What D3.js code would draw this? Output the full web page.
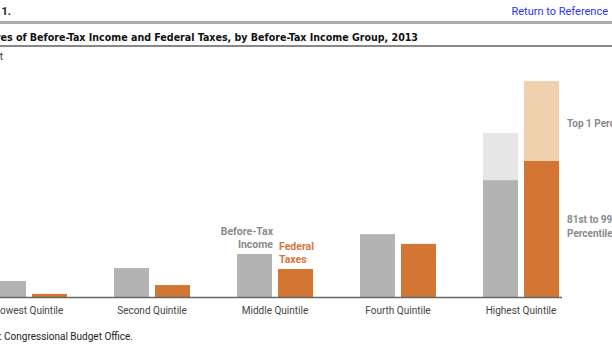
<!DOCTYPE html>
<html>
<head>
<meta charset="utf-8">
<script src="https://cdn.jsdelivr.net/npm/d3@7"></script>
<style>
  body { margin: 0; background: #fff; }
  svg { display: block; font-family: Roboto, "Liberation Sans", sans-serif; }
</style>
</head>
<body>
<div id="chart"></div>
<script>
// shares in percent
const groups = ["Lowest Quintile", "Second Quintile", "Middle Quintile", "Fourth Quintile", "Highest Quintile"];
const incomeShare = [5.1, 9.2, 13.7, 20.0, 37.2];   // highest = 81st to 99th part
const taxShare = [1.0, 3.8, 8.9, 16.9, 43.3];
const incomeTop1 = [0, 0, 0, 0, 15.0];
const taxTop1 = [0, 0, 0, 0, 25.4];

const grayDark = "#b3b3b3";
const grayLight = "#e6e6e6";
const orangeDark = "#d37533";
const orangeLight = "#f0d1ad";

const width = 612, height = 344;
const baseY = 297;

const svg = d3.select("#chart").append("svg")
  .attr("width", width)
  .attr("height", height);

// header
svg.append("text").attr("x", 11).attr("y", 15).attr("text-anchor", "end")
  .attr("font-size", 11).attr("font-weight", "bold").attr("fill", "#222").text("Figure 1.");
svg.append("text").attr("x", 608).attr("y", 15).attr("text-anchor", "end")
  .attr("font-size", 11).attr("fill", "#2b35f0").text("Return to Reference");
svg.append("rect").attr("x", 0).attr("y", 21).attr("width", width).attr("height", 3).attr("fill", "#aaa");

// title: condensed bold, sized so the visible part "es of ... 2013" spans about 418px
const titleFont = '"Liberation Sans Narrow", "DejaVu Sans Condensed", Roboto, sans-serif';
const probe = svg.append("text").attr("font-family", titleFont).attr("font-weight", "bold")
  .attr("font-size", 13).text("es of Before-Tax Income and Federal Taxes, by Before-Tax Income Group, 2013");
const titleSize = 13 * 418 / probe.node().getComputedTextLength();
probe.remove();
svg.append("text").attr("x", 418).attr("y", 41).attr("text-anchor", "end")
  .attr("font-family", titleFont)
  .attr("font-size", titleSize).attr("font-weight", "bold").attr("fill", "#111")
  .text("Shares of Before-Tax Income and Federal Taxes, by Before-Tax Income Group, 2013");
svg.append("line").attr("x1", 0).attr("x2", width).attr("y1", 46).attr("y2", 46)
  .attr("stroke", "#111").attr("stroke-width", 1.2);
svg.append("text").attr("x", 3).attr("y", 60).attr("text-anchor", "end")
  .attr("font-size", 10).attr("fill", "#333").text("Percent");

const x0 = d3.scaleBand().domain(groups).range([-32.5, 582.5]);
const x1 = d3.scaleBand().domain(["income", "taxes"]).range([0, 76]).paddingInner(6 / 41);
const y = d3.scaleLinear().domain([0, 70]).range([baseY, 77]);

const rows = groups.map((g, i) => ({
  group: g,
  income: incomeShare[i], incomeTop: incomeTop1[i],
  taxes: taxShare[i], taxesTop: taxTop1[i]
}));

const cx = g => x0(g) + x0.bandwidth() / 2;

const gBars = svg.append("g");
const series = [
  { key: "income", top: "incomeTop", fill: grayDark, topFill: grayLight },
  { key: "taxes", top: "taxesTop", fill: orangeDark, topFill: orangeLight }
];
series.forEach(s => {
  gBars.selectAll(null).data(rows).enter().append("rect")
    .attr("x", d => cx(d.group) - 38 + x1(s.key))
    .attr("width", x1.bandwidth())
    .attr("y", d => y(d[s.key]))
    .attr("height", d => y(0) - y(d[s.key]))
    .attr("fill", s.fill);
  gBars.selectAll(null).data(rows.filter(d => d[s.top] > 0)).enter().append("rect")
    .attr("x", d => cx(d.group) - 38 + x1(s.key))
    .attr("width", x1.bandwidth())
    .attr("y", d => y(d[s.key] + d[s.top]))
    .attr("height", d => y(d[s.key]) - y(d[s.key] + d[s.top]))
    .attr("fill", s.topFill);
});

// baseline and category labels
svg.append("line").attr("x1", 0).attr("x2", 562).attr("y1", baseY + 0.5).attr("y2", baseY + 0.5)
  .attr("stroke", "#666").attr("stroke-width", 1.5);
svg.selectAll("text.cat").data(groups).enter().append("text")
  .attr("class", "cat")
  .attr("x", d => cx(d)).attr("y", 314)
  .attr("text-anchor", "middle").attr("font-size", 10).attr("fill", "#444")
  .text(d => d);

// series labels on the middle quintile
const mid = cx(groups[2]);
svg.append("text").attr("x", mid - 2).attr("y", 235).attr("text-anchor", "end")
  .attr("font-size", 10.5).attr("font-weight", "bold").attr("fill", "#8a8a8a")
  .selectAll("tspan").data(["Before-Tax", "Income"]).enter().append("tspan")
  .attr("x", mid - 2).attr("dy", (d, i) => i ? 12.5 : 0).text(d => d);
svg.append("text").attr("x", mid + 4).attr("y", 250)
  .attr("font-size", 10.5).attr("font-weight", "bold").attr("fill", "#d9763a")
  .selectAll("tspan").data(["Federal", "Taxes"]).enter().append("tspan")
  .attr("x", mid + 4).attr("dy", (d, i) => i ? 12.5 : 0).text(d => d);

// labels for the highest quintile split
svg.append("text").attr("x", 567).attr("y", 127)
  .attr("font-size", 10).attr("font-weight", "bold").attr("fill", "#8a8a8a")
  .text("Top 1 Percent");
svg.append("text").attr("x", 567).attr("y", 223)
  .attr("font-size", 10).attr("font-weight", "bold").attr("fill", "#8a8a8a")
  .selectAll("tspan").data(["81st to 99th", "Percentile"]).enter().append("tspan")
  .attr("x", 567).attr("dy", (d, i) => i ? 14 : 0).text(d => d);

svg.append("text").attr("x", 133).attr("y", 340).attr("text-anchor", "end")
  .attr("font-size", 10).attr("fill", "#222").text("Source: Congressional Budget Office.");
</script>
</body>
</html>
